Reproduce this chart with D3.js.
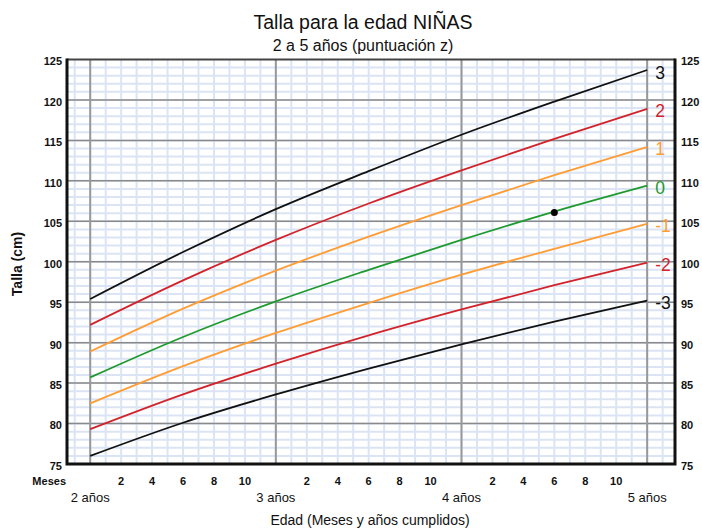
<!DOCTYPE html>
<html><head><meta charset="utf-8">
<script src="https://cdn.jsdelivr.net/npm/d3@7"></script>
<style>body{margin:0;background:#fff}svg{display:block;font-family:"Liberation Sans",Arial,sans-serif}</style>
</head><body><svg id="c" width="702" height="531"></svg>
<script>
const months = [24, 30, 36, 42, 48, 54, 60];
const sdNeg3 = [76.0, 80.1, 83.6, 86.8, 89.8, 92.6, 95.2];
const sdNeg2 = [79.3, 83.6, 87.4, 90.9, 94.1, 97.1, 99.9];
const sdNeg1 = [82.5, 87.1, 91.2, 94.9, 98.4, 101.6, 104.7];
const sd0    = [85.7, 90.7, 95.1, 99.0, 102.7, 106.2, 109.4];
const sd1    = [88.9, 94.2, 98.9, 103.1, 107.0, 110.7, 114.2];
const sd2    = [92.2, 97.7, 102.7, 107.2, 111.3, 115.2, 118.9];
const sd3    = [95.4, 101.2, 106.5, 111.2, 115.7, 119.8, 123.7];
const seriesLabels = ["3", "2", "1", "0", "-1", "-2", "-3"];
const yTicks = [75, 80, 85, 90, 95, 100, 105, 110, 115, 120, 125];
const yearTicks = [24, 36, 48, 60];
const yearLabels = ["2 años", "3 años", "4 años", "5 años"];
const monthLabels = [2, 4, 6, 8, 10];
const point = {month: 54, talla: 106.1};

const colors = {"3":"#111","2":"#d2232a","1":"#ff9c33","0":"#1f9a2f","-1":"#ff9c33","-2":"#d2232a","-3":"#111"};
const series = [sd3, sd2, sd1, sd0, sdNeg1, sdNeg2, sdNeg3].map((v,i)=>({label:seriesLabels[i], values:v}));

const svg = d3.select("#c");
const x = d3.scaleLinear().domain([22.5, 61.8]).range([67, 675]);
const y = d3.scaleLinear().domain([75, 125]).range([464, 59.5]);

// light grid
const g = svg.append("g");
g.selectAll(".lv").data(d3.range(23, 62)).join("line")
  .attr("x1", d=>x(d)).attr("x2", d=>x(d)).attr("y1", y(125)).attr("y2", y(75))
  .attr("stroke", "#dbe4f4").attr("stroke-width", 2);
g.selectAll(".lh").data(d3.range(76, 125)).join("line")
  .attr("x1", x.range()[0]).attr("x2", x.range()[1]).attr("y1", d=>y(d)).attr("y2", d=>y(d))
  .attr("stroke", "#dbe4f4").attr("stroke-width", 2);
// major grid
g.selectAll(".mh").data(yTicks.slice(1, -1)).join("line")
  .attr("x1", x.range()[0]).attr("x2", x.range()[1]).attr("y1", d=>y(d)).attr("y2", d=>y(d))
  .attr("stroke", "#8a8a8a").attr("stroke-width", 1.5);
g.selectAll(".mv").data(yearTicks).join("line")
  .attr("x1", d=>x(d)).attr("x2", d=>x(d)).attr("y1", y(125)).attr("y2", y(75))
  .attr("stroke", "#999").attr("stroke-width", 2);

// curves
const line = d3.line().x((d,i)=>x(months[i])).y(d=>y(d)).curve(d3.curveMonotoneX);
svg.selectAll(".curve").data(series).join("path")
  .attr("d", d=>line(d.values)).attr("fill","none")
  .attr("stroke", d=>colors[d.label]).attr("stroke-width", 1.8);
svg.selectAll(".clab").data(series).join("text")
  .attr("x", x(60) + 8).attr("y", d=>y(d.values[d.values.length-1]) + 4)
  .attr("dominant-baseline", "middle")
  .attr("fill", d=>colors[d.label]).attr("font-size", 17.5).text(d=>d.label);

// point
svg.append("circle").attr("cx", x(point.month)).attr("cy", y(point.talla)).attr("r", 3.5).attr("fill", "#000");

// frame
svg.append("line").attr("x1", x.range()[0]).attr("x2", x.range()[1]).attr("y1", y(125)).attr("y2", y(125)).attr("stroke", "#444").attr("stroke-width", 2);
svg.append("path").attr("d", `M${x.range()[0]},${y(125)-1}V${y(75)}H${x.range()[1]}V${y(125)-1}`)
  .attr("fill","none").attr("stroke","#111").attr("stroke-width", 3);

// y labels
const yl = svg.append("g").attr("font-size", 11).attr("font-weight", "bold").attr("fill", "#111");
yl.selectAll(".yl").data(yTicks).join("text").attr("x", 62).attr("y", d=>y(d)+3)
  .attr("text-anchor","end").attr("dominant-baseline","middle").text(d=>d);
yl.selectAll(".yr").data(yTicks).join("text").attr("x", 681).attr("y", d=>y(d)+3)
  .attr("text-anchor","start").attr("dominant-baseline","middle").text(d=>d);

// x labels
const xl = svg.append("g").attr("font-size", 11).attr("font-weight", "bold").attr("fill", "#111");
const monthPos = [];
yearTicks.slice(0, 3).forEach(yr => monthLabels.forEach(m => monthPos.push({m: yr + m, t: m})));
xl.selectAll(".ml").data(monthPos).join("text").attr("x", d=>x(d.m)).attr("y", 485)
  .attr("text-anchor","middle").text(d=>d.t);
xl.append("text").attr("x", 66).attr("y", 485).attr("text-anchor","end").text("Meses");
svg.append("g").selectAll("text").data(yearTicks).join("text")
  .attr("x", d=>x(d)).attr("y", 502).attr("text-anchor","middle")
  .attr("font-size", 13).attr("fill","#111").text((d,i)=>yearLabels[i]);

// titles
svg.append("text").attr("x", 363).attr("y", 29).attr("text-anchor","middle").attr("font-size", 19.5).attr("fill","#111").text("Talla para la edad NIÑAS");
svg.append("text").attr("x", 363).attr("y", 51).attr("text-anchor","middle").attr("font-size", 16).attr("fill","#111").text("2 a 5 años (puntuación z)");
svg.append("text").attr("x", 370).attr("y", 525).attr("text-anchor","middle").attr("font-size", 14).attr("fill","#111").text("Edad (Meses y años cumplidos)");
svg.append("text").attr("transform", "translate(22,264) rotate(-90)").attr("text-anchor","middle").attr("font-size", 14).attr("font-weight","bold").attr("fill","#111").text("Talla (cm)");
</script></body></html>
